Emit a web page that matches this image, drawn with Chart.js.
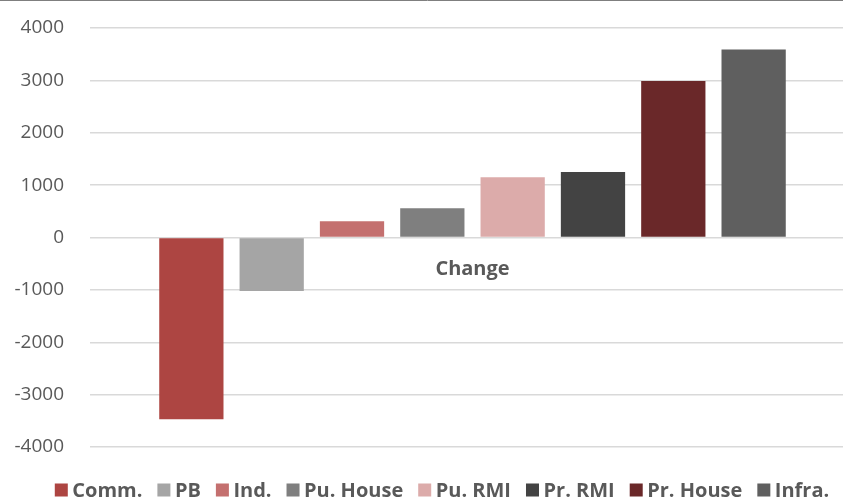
<!DOCTYPE html>
<html>
<head>
<meta charset="utf-8">
<script src="https://cdn.jsdelivr.net/npm/chart.js@4/dist/chart.umd.min.js"></script>
<style>
  html, body { margin: 0; padding: 0; background: #fff; overflow: hidden; }
  #wrap { width: 855px; height: 498px; }
</style>
</head>
<body>
<div id="wrap"><canvas id="c" width="855" height="498"></canvas></div>
<script>
// Single category, one bar per sector
const categories = ['Change'];
const sectors = ['Comm.', 'PB', 'Ind.', 'Pu. House', 'Pu. RMI', 'Pr. RMI', 'Pr. House', 'Infra.'];
const changeValues = [-3470, -1020, 310, 560, 1150, 1250, 2990, 3590];
const sectorColors = ['#AD4542', '#A5A5A5', '#C4706F', '#7F7F7F', '#DCABAA', '#434343', '#6A2829', '#5F5F5F'];
const yTicks = [-4000, -3000, -2000, -1000, 0, 1000, 2000, 3000, 4000];

const textGray = '#595959';

const datasets = sectors.map((name, i) => ({
  label: name,
  data: [changeValues[i]],
  backgroundColor: sectorColors[i],
  borderWidth: 0,
  barPercentage: 0.8,
  categoryPercentage: 0.84
}));

// Legend row along the bottom plus the thin frame line at the top
const frameAndLegend = {
  id: 'frameAndLegend',
  afterDraw(chart) {
    const ctx = chart.ctx;
    ctx.save();
    ctx.strokeStyle = '#7F7F7F';
    ctx.lineWidth = 1;
    ctx.beginPath();
    ctx.moveTo(0, 0.5);
    ctx.lineTo(chart.width, 0.5);
    ctx.stroke();

    const box = 13, textGap = 4.5, itemGap = 15;
    ctx.font = 'bold 20px "Open Sans"';
    const items = chart.data.datasets.map(ds => ({
      text: ds.label, color: ds.backgroundColor, w: ctx.measureText(ds.label).width
    }));
    const total = items.reduce((s, it) => s + box + textGap + it.w, 0) + itemGap * (items.length - 1);
    let x = 442 - total / 2;
    const baseline = 497;
    ctx.textBaseline = 'alphabetic';
    ctx.textAlign = 'left';
    items.forEach(it => {
      ctx.fillStyle = it.color;
      ctx.fillRect(x, 483.5, box, box);
      x += box + textGap;
      ctx.fillStyle = textGray;
      ctx.fillText(it.text, x, baseline);
      x += it.w + itemGap;
    });
    ctx.restore();
  }
};

new Chart(document.getElementById('c'), {
  type: 'bar',
  data: { labels: categories, datasets },
  options: {
    responsive: false,
    animation: false,
    layout: { padding: { top: 28, right: 0, bottom: 51, left: 0 } },
    plugins: {
      legend: { display: false },
      tooltip: { enabled: false }
    },
    scales: {
      x: {
        position: { y: 0 },
        grid: { display: false, drawTicks: false },
        border: { display: false },
        ticks: {
          padding: 20,
          color: textGray,
          font: { family: '"Open Sans"', size: 20, weight: 'bold' }
        }
      },
      y: {
        min: -4000,
        max: 4000,
        afterBuildTicks: (scale) => { scale.ticks = yTicks.map(v => ({ value: v })); },
        afterFit: (scale) => { scale.width = 90; },
        grid: {
          color: '#D9D9D9',
          lineWidth: 1.5,
          drawTicks: true,
          tickLength: 23,
          tickColor: 'rgba(0,0,0,0)'
        },
        border: { display: false },
        ticks: {
          padding: 3,
          color: textGray,
          font: { family: '"Open Sans"', size: 19 },
          callback: (v) => String(v)
        }
      }
    }
  },
  plugins: [frameAndLegend]
});
</script>
</body>
</html>
